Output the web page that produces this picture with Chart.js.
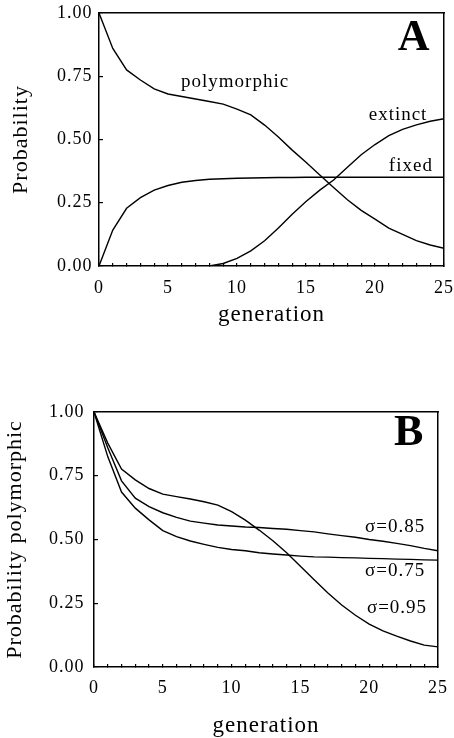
<!DOCTYPE html>
<html>
<head>
<meta charset="utf-8">
<script src="https://cdn.jsdelivr.net/npm/chart.js@4.4.1/dist/chart.umd.min.js"></script>
<style>
  html, body { margin: 0; padding: 0; background: #fff; }
  body { width: 454px; height: 738px; position: relative; overflow: hidden; }
  canvas { position: absolute; left: 0; }
  #chartA { top: 0; }
  #chartB { top: 345px; }
</style>
</head>
<body>
<canvas id="chartA" width="454" height="345"></canvas>
<canvas id="chartB" width="454" height="393"></canvas>
<script>
// generations on the x axis
const generations = [0, 1, 2, 3, 4, 5, 6, 7, 8, 9, 10, 11, 12, 13, 14, 15, 16, 17, 18, 19, 20, 21, 22, 23, 24, 25];
const xTickLabels = [0, 5, 10, 15, 20, 25];

// panel A
const polymorphicA = [1.00, 0.86, 0.775, 0.735, 0.70, 0.68, 0.67, 0.66, 0.65, 0.64, 0.62, 0.597, 0.557, 0.51, 0.458, 0.41, 0.36, 0.31, 0.262, 0.22, 0.185, 0.15, 0.125, 0.10, 0.083, 0.07];
const fixedA = [0, 0.142, 0.228, 0.27, 0.30, 0.318, 0.331, 0.338, 0.343, 0.345, 0.347, 0.348, 0.349, 0.35, 0.35, 0.351, 0.351, 0.351, 0.351, 0.351, 0.351, 0.351, 0.351, 0.351, 0.351, 0.351];
const extinctA = [0, 0, 0, 0, 0, 0, 0, 0, 0, 0.01, 0.03, 0.06, 0.10, 0.15, 0.205, 0.255, 0.30, 0.34, 0.39, 0.44, 0.48, 0.515, 0.54, 0.558, 0.572, 0.582];

// panel B
const sigma095 = [1.00, 0.878, 0.776, 0.734, 0.70, 0.678, 0.668, 0.659, 0.648, 0.635, 0.609, 0.576, 0.537, 0.495, 0.448, 0.395, 0.342, 0.29, 0.243, 0.203, 0.168, 0.142, 0.121, 0.102, 0.086, 0.079];
const sigma085 = [1.00, 0.86, 0.73, 0.662, 0.629, 0.605, 0.587, 0.572, 0.564, 0.557, 0.553, 0.549, 0.547, 0.543, 0.54, 0.535, 0.53, 0.522, 0.515, 0.509, 0.50, 0.493, 0.485, 0.476, 0.465, 0.456];
const sigma075 = [1.00, 0.825, 0.686, 0.623, 0.577, 0.535, 0.511, 0.494, 0.481, 0.469, 0.461, 0.456, 0.448, 0.443, 0.439, 0.435, 0.432, 0.431, 0.429, 0.428, 0.426, 0.425, 0.423, 0.422, 0.42, 0.419];

const serif = "'Liberation Serif', 'Times New Roman', serif";

function toPoints(values) {
  return generations.map((g, i) => ({ x: g, y: values[i] }));
}

function lineSet(label, values) {
  return {
    label: label,
    data: toPoints(values),
    xAxisID: 'x',
    yAxisID: 'y',
    borderColor: '#000',
    borderWidth: 1.4,
    pointRadius: 0,
    tension: 0,
    fill: false
  };
}

// text written on top of the plot, placed in data units
function textPlugin(items) {
  return {
    id: 'curveText',
    beforeDraw(chart) {
      chart.ctx.letterSpacing = '1px';
    },
    afterDatasetsDraw(chart) {
      const ctx = chart.ctx;
      const xs = chart.scales.x;
      const ys = chart.scales.y;
      ctx.save();
      ctx.fillStyle = '#000';
      ctx.textAlign = 'center';
      ctx.textBaseline = 'middle';
      items.forEach(it => {
        ctx.font = it.font;
        ctx.fillText(it.text, xs.getPixelForValue(it.x), ys.getPixelForValue(it.y));
      });
      ctx.restore();
    }
  };
}

// keep the plot box where it is, even with labels sticking out at the ends
function noEdgePadding(s) {
  s.paddingLeft = 0;
  s.paddingRight = 0;
  s.paddingTop = 0;
  s.paddingBottom = 0;
}

function makePanel(id, datasets, yTitle, lay, items) {
  const ctx = document.getElementById(id);
  const myChart = new Chart(ctx, {
    type: 'line',
    data: { datasets: datasets },
    options: {
      responsive: false,
      animation: false,
      events: [],
      layout: { padding: { top: lay.top, right: lay.right, left: 0, bottom: 0 } },
      plugins: {
        legend: { display: false },
        tooltip: { enabled: false },
        title: { display: false }
      },
      scales: {
        x: {
          type: 'linear',
          position: 'bottom',
          min: 0,
          max: 25,
          afterFit: s => { s.height = lay.xHeight; noEdgePadding(s); },
          ticks: {
            stepSize: 1,
            autoSkip: false,
            maxRotation: 0,
            color: '#000',
            padding: lay.xPad,
            font: { family: serif, size: 18 },
            callback: v => xTickLabels.includes(v) ? String(v) : ''
          },
          grid: { drawOnChartArea: false, drawTicks: true, tickLength: -3, color: '#000', lineWidth: 1.2 },
          border: { color: '#000', width: 1.5 },
          title: {
            display: true,
            text: 'generation',
            color: '#000',
            font: { family: serif, size: 23 },
            padding: { top: 0, bottom: lay.xTitlePad }
          }
        },
        y: {
          type: 'linear',
          position: 'left',
          min: 0,
          max: 1,
          afterFit: s => { s.width = lay.yWidth; noEdgePadding(s); },
          ticks: {
            stepSize: 0.25,
            color: '#000',
            padding: lay.yPad,
            font: { family: serif, size: 18 },
            callback: v => v.toFixed(2)
          },
          grid: { drawOnChartArea: false, drawTicks: true, tickLength: -4, color: '#000', lineWidth: 1.2 },
          border: { color: '#000', width: 1.5 },
          title: {
            display: true,
            text: yTitle,
            color: '#000',
            font: { family: serif, size: 22 },
            padding: { top: lay.yTitlePad, bottom: 0 }
          }
        },
        // top and right side of the box
        xTop: {
          type: 'linear',
          position: 'top',
          min: 0,
          max: 25,
          afterFit: s => { s.height = 0; noEdgePadding(s); },
          ticks: { display: false },
          grid: { drawOnChartArea: false, drawTicks: false },
          border: { color: '#000', width: 1.5 }
        },
        yRight: {
          type: 'linear',
          position: 'right',
          min: 0,
          max: 1,
          afterFit: s => { s.width = 0; noEdgePadding(s); },
          ticks: { display: false },
          grid: { drawOnChartArea: false, drawTicks: false },
          border: { color: '#000', width: 1.5 }
        }
      }
    },
    plugins: [textPlugin(items)]
  });
  return myChart;
}

function main() {
  const labelFont = '19px ' + serif;
  const bigFont = 'bold 44px ' + serif;

  makePanel('chartA', [
    lineSet('polymorphic', polymorphicA),
    lineSet('fixed', fixedA),
    lineSet('extinct', extinctA)
  ], 'Probability', {
    top: 13, right: 10, yWidth: 99, xHeight: 79,
    xPad: 14, yPad: 10.5, xTitlePad: 16, yTitlePad: 8
  }, [
    { text: 'polymorphic', x: 9.86, y: 0.727, font: labelFont },
    { text: 'extinct', x: 21.67, y: 0.597, font: labelFont },
    { text: 'fixed', x: 22.6, y: 0.395, font: labelFont },
    { text: 'A', x: 22.83, y: 0.897, font: bigFont }
  ]);

  makePanel('chartB', [
    lineSet('σ=0.95', sigma095),
    lineSet('σ=0.85', sigma085),
    lineSet('σ=0.75', sigma075)
  ], 'Probability polymorphic', {
    top: 67, right: 16, yWidth: 94, xHeight: 71,
    xPad: 13, yPad: 13.5, xTitlePad: -2, yTitlePad: 2.5
  }, [
    { text: 'σ=0.85', x: 21.88, y: 0.549, font: labelFont },
    { text: 'σ=0.75', x: 21.88, y: 0.376, font: labelFont },
    { text: 'σ=0.95', x: 22.02, y: 0.231, font: labelFont },
    { text: 'B', x: 22.9, y: 0.914, font: bigFont }
  ]);
}

document.addEventListener('DOMContentLoaded', function() {
  main();
});
</script>
</body>
</html>
